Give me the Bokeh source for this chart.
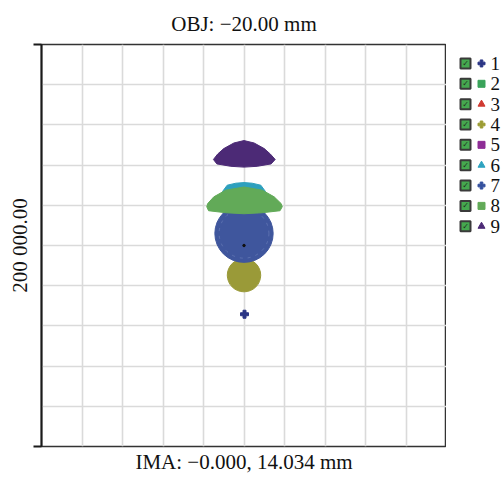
from bokeh.plotting import figure
from bokeh.layouts import row
from bokeh.models import Range1d, FixedTicker, ColumnDataSource
from bokeh.core.properties import value, field
from bokeh.embed import file_html
from bokeh.resources import INLINE

# ---------------- data ----------------
TITLE = "OBJ: \u221220.00 mm"
XLABEL = "IMA: \u22120.000, 14.034 mm"
SCALE_LABEL = "200 000.00"
HALF_BOX = 100000          # box spans +/- 100 000 um (scale 200 000.00)
GRID_TICKS = [-80000, -60000, -40000, -20000, 0, 20000, 40000, 60000, 80000]

LEGEND_LABELS = ["1", "2", "3", "4", "5", "6", "7", "8", "9"]
LEGEND_MARKERS = ["plus", "square", "triangle", "plus", "square", "triangle", "plus", "square", "triangle"]
LEGEND_COLORS = ["#2a3585", "#3aa35a", "#d03a32", "#9c9c34", "#8e2d96", "#2ea3c0", "#34509e", "#62aa58", "#4c2a76"]

# circular spots (field, centre x, centre y, diameter) in um
CIRCLE_FIELD = [4, 7]
CIRCLE_X = [0, 0]
CIRCLE_Y = [-14800, 6000]
CIRCLE_D = [16500, 28800]
CIRCLE_COLOR = ["#9a9a38", "#3f569d"]

# faint inner ray ring of field 7
RING_X = [0]
RING_Y = [6000]
RING_D = [24600]

# dome-shaped spots, outline vertices (um)
DOME6_X = [-10500, -8300, -4000, 0, 4000, 8300, 10500, 10500, -10500]
DOME6_Y = [27000, 30000, 31000, 31300, 31000, 30000, 27000, 22000, 22000]
DOME8_X = [-18400, -17900, -14900, -9100, 0, 9100, 14900, 18300, 18900, 17800, 9000, 0, -9000, -17500]
DOME8_Y = [19300, 20900, 24200, 27500, 29100, 27500, 24200, 20900, 19300, 17300, 16300, 15800, 16300, 17300]
DOME9_X = [-15100, -13000, -10000, -5000, 0, 5000, 10000, 13000, 15400, 13400, 6500, 0, -6500, -13400]
DOME9_Y = [42800, 45500, 48200, 51000, 52200, 51000, 48200, 45500, 42800, 40600, 39400, 39000, 39400, 40600]
DOME_COLORS = {6: "#2ea0be", 8: "#62aa58", 9: "#4c2a76"}

# single-point spot of field 1 and the chief ray reference
POINT_X = [250]
POINT_Y = [-34200]
CHIEF_X = [0]
CHIEF_Y = [0]

SERIF = "Liberation Serif"

# ---------------- main spot plot ----------------
W_MAIN, H = 446, 477
FRAME_H = 403
p = figure(width=W_MAIN, height=H,
           x_range=Range1d(-HALF_BOX, HALF_BOX), y_range=Range1d(-HALF_BOX, HALF_BOX),
           output_backend="svg", toolbar_location=None,
           min_border_left=41, min_border_right=0, min_border_top=43, min_border_bottom=31)
p.background_fill_color = "white"
p.border_fill_color = "white"
p.outline_line_color = "#333333"
p.outline_line_width = 1.5

p.title.text = TITLE
p.title.align = "center"
p.title.text_font = SERIF
p.title.text_font_size = "21px"
p.title.text_font_style = "normal"
p.title.text_color = "#111111"
p.title.standoff = 18

for g in (p.xgrid, p.ygrid):
    g.ticker = FixedTicker(ticks=GRID_TICKS)
    g.grid_line_color = "#dadada"
    g.grid_line_width = 1.6

# left scale bar axis
ya = p.yaxis[0]
ya.ticker = FixedTicker(ticks=[-HALF_BOX, HALF_BOX])
ya.major_label_overrides = {-HALF_BOX: "", HALF_BOX: ""}
ya.axis_line_color = "#1a1a1a"
ya.axis_line_width = 2
ya.major_tick_line_color = "#1a1a1a"
ya.major_tick_line_width = 2
ya.major_tick_out = 8
ya.major_tick_in = 0
ya.minor_tick_line_color = None
ya.major_label_standoff = 0
ya.axis_label = SCALE_LABEL
ya.axis_label_text_font = SERIF
ya.axis_label_text_font_size = "21px"
ya.axis_label_text_font_style = "normal"
ya.axis_label_text_color = "#111111"
ya.axis_label_standoff = 2

xa = p.xaxis[0]
xa.ticker = FixedTicker(ticks=[])
xa.axis_line_color = None
xa.major_tick_line_color = None
xa.minor_tick_line_color = None
xa.major_tick_out = 0
xa.major_tick_in = 0
xa.major_label_standoff = 0
xa.axis_label = XLABEL
xa.axis_label_text_font = SERIF
xa.axis_label_text_font_size = "21px"
xa.axis_label_text_font_style = "normal"
xa.axis_label_text_color = "#111111"
xa.axis_label_standoff = 3

# spots
p.scatter(POINT_X, POINT_Y, marker="plus", size=8, color=LEGEND_COLORS[0])
p.ellipse(x=CIRCLE_X[:1], y=CIRCLE_Y[:1], width=CIRCLE_D[:1], height=CIRCLE_D[:1],
          fill_color=CIRCLE_COLOR[0], line_color=CIRCLE_COLOR[0])
p.patch(DOME6_X, DOME6_Y, fill_color=DOME_COLORS[6], line_color=DOME_COLORS[6])
p.ellipse(x=CIRCLE_X[1:], y=CIRCLE_Y[1:], width=CIRCLE_D[1:], height=CIRCLE_D[1:],
          fill_color=CIRCLE_COLOR[1], line_color=CIRCLE_COLOR[1])
p.ellipse(x=RING_X, y=RING_Y, width=RING_D, height=RING_D, fill_color=None,
          line_color="#7d8fc4", line_width=1, line_dash="3 5", line_alpha=0.45)
p.scatter(CHIEF_X, CHIEF_Y, marker="circle", size=2.5, color="#111111")
p.patch(DOME8_X, DOME8_Y, fill_color=DOME_COLORS[8], line_color=DOME_COLORS[8])
p.patch(DOME9_X, DOME9_Y, fill_color=DOME_COLORS[9], line_color=DOME_COLORS[9])

# ---------------- legend panel (its frame is aligned with the main frame) ----------------
ROW_TOP_PX = 19.0      # first row below the frame top
ROW_STEP_PX = 20.4
W_LEG = 57
leg = figure(width=W_LEG, height=H, x_range=Range1d(0, W_LEG),
             y_range=Range1d((FRAME_H - ROW_TOP_PX) / ROW_STEP_PX, -ROW_TOP_PX / ROW_STEP_PX),
             x_axis_type=None, y_axis_type=None, title=None,
             output_backend="svg", toolbar_location=None, min_border=0)
leg.outline_line_color = None
leg.xgrid.visible = False
leg.ygrid.visible = False
leg.background_fill_color = "white"
leg.border_fill_color = "white"

idx = list(range(len(LEGEND_LABELS)))
src = ColumnDataSource(dict(
    row=idx, lab=LEGEND_LABELS, mk=LEGEND_MARKERS, col=LEGEND_COLORS,
    box_x=[19] * len(idx), mk_x=[35] * len(idx), txt_x=[44] * len(idx)))
leg.scatter(x="box_x", y="row", source=src, marker="square", size=10,
            fill_color="#45a84f", line_color="#3a3a3a", line_width=2)
leg.text(x="box_x", y="row", text=value("\u2713"), source=src, text_font=value("DejaVu Sans"),
         text_font_size="8px", text_color="#1e2e1e", text_align="center", text_baseline="middle")
leg.scatter(x="mk_x", y="row", source=src, marker=field("mk"), size=7,
            fill_color="col", line_color="col")
leg.text(x="txt_x", y="row", text="lab", source=src, text_font=value(SERIF),
         text_font_size="19px", text_color="#111111", text_align="left", text_baseline="middle")

layout = row(p, leg)
open("out.html", "w").write(file_html(layout, INLINE))
